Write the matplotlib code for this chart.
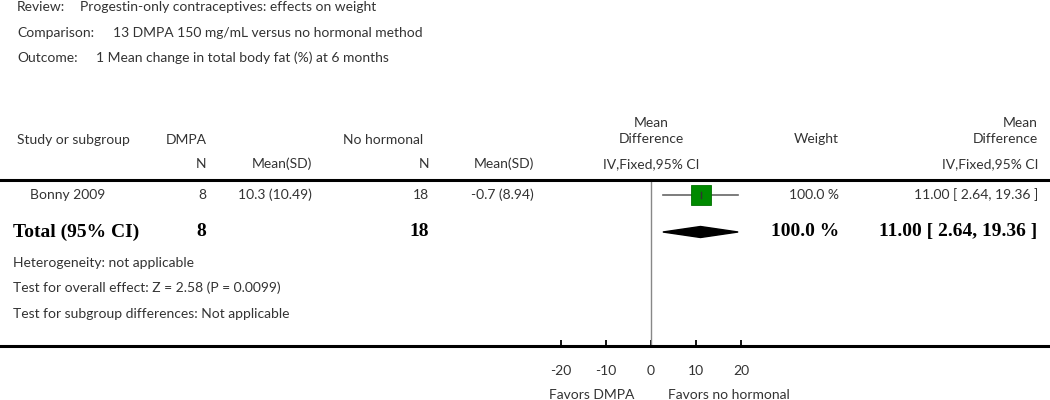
"""
Forest plot: DMPA 150 mg/mL versus no hormonal method,
mean change in total body fat (%) at 6 months.
"""

import matplotlib.pyplot as plt
from matplotlib.patches import Polygon

# datos del gráfico
review = "Progestin-only contraceptives: effects on weight"
comparison = "13 DMPA 150 mg/mL versus no hormonal method"
outcome = "1 Mean change in total body fat (%) at 6 months"

studies = ["Bonny 2009"]
dmpa_n = [8]
dmpa_mean_sd = ["10.3 (10.49)"]
nohorm_n = [18]
nohorm_mean_sd = ["-0.7 (8.94)"]
md = [11.00]
ci_low = [2.64]
ci_high = [19.36]
weights = [100.0]

total_dmpa_n = 8
total_nohorm_n = 18
total_md = 11.00
total_low = 2.64
total_high = 19.36
total_weight = 100.0

heterogeneity = "Heterogeneity: not applicable"
overall_effect = "Test for overall effect: Z = 2.58 (P = 0.0099)"
subgroup_diff = "Test for subgroup differences: Not applicable"

x_ticks = [-20, -10, 0, 10, 20]
favors_left = "Favors DMPA"
favors_right = "Favors no hormonal"

W, H = 1050, 400
SANS = "Lato"
SERIF = "Liberation Serif"
GREY = "#333333"


def px(x, y):
    """pixel -> figure coords"""
    return x / W, 1 - y / H


def txt(fig, x, y, s, ha="left", bold=False, size=10):
    fx, fy = px(x, y)
    if bold:
        fig.text(fx, fy, s, ha=ha, va="center", fontsize=size + 4,
                 family=SERIF, weight="bold", color="black")
    else:
        fig.text(fx, fy, s, ha=ha, va="center", fontsize=size,
                 family=SANS, color=GREY)


def main():
    fig = plt.figure(figsize=(W / 100, H / 100), dpi=100)

    # encabezado
    txt(fig, 17, 7, "Review:")
    txt(fig, 80, 7, review)
    txt(fig, 17, 33, "Comparison:")
    txt(fig, 113, 33, comparison)
    txt(fig, 17, 58, "Outcome:")
    txt(fig, 96, 58, outcome)

    # cabecera de columnas
    txt(fig, 17, 140, "Study or subgroup")
    txt(fig, 166, 140, "DMPA")
    txt(fig, 206, 164, "N", ha="right")
    txt(fig, 312, 164, "Mean(SD)", ha="right")
    txt(fig, 343, 140, "No hormonal")
    txt(fig, 429, 164, "N", ha="right")
    txt(fig, 534, 164, "Mean(SD)", ha="right")
    txt(fig, 651, 123, "Mean", ha="center")
    txt(fig, 651, 139, "Difference", ha="center")
    txt(fig, 651, 164, "IV,Fixed,95% CI", ha="center")
    txt(fig, 839, 139, "Weight", ha="right")
    txt(fig, 1038, 123, "Mean", ha="right")
    txt(fig, 1038, 139, "Difference", ha="right")
    txt(fig, 1038, 164, "IV,Fixed,95% CI", ha="right")

    # líneas horizontales gruesas
    for yl in (180.5, 345.5):
        fig.add_artist(plt.Line2D([0, 1], [1 - yl / H] * 2, color="black",
                                  lw=2.2, transform=fig.transFigure))

    # ejes del forest plot: -20..20 ocupa 561..741 px
    row_px = [194.5, 232.0]
    step = row_px[1] - row_px[0]
    top, bot = 182, 345.5
    ax = fig.add_axes([561 / W, 1 - bot / H, 180 / W, (bot - top) / H])
    ax.set_xlim(-20, 20)
    ax.set_ylim((bot - row_px[0]) / step, (top - row_px[0]) / step)
    for s in ax.spines.values():
        s.set_visible(False)
    ax.set_yticks([])
    ax.set_xticks(x_ticks)
    ax.set_xticklabels([str(t) for t in x_ticks], family=SANS, fontsize=10,
                       color=GREY)
    ax.tick_params(axis="x", direction="in", length=4, width=1.3,
                   pad=14, colors="black", labelcolor=GREY)
    ax.patch.set_alpha(0)
    ax.axvline(0, color="#888888", lw=1)

    # estudios
    for i, name in enumerate(studies):
        y = row_px[i]
        txt(fig, 30, y, name)
        txt(fig, 206, y, str(dmpa_n[i]), ha="right")
        txt(fig, 312, y, dmpa_mean_sd[i], ha="right")
        txt(fig, 429, y, str(nohorm_n[i]), ha="right")
        txt(fig, 534, y, nohorm_mean_sd[i], ha="right")
        txt(fig, 839, y, f"{weights[i]:.1f} %", ha="right")
        txt(fig, 1038, y,
            f"{md[i]:.2f} [ {ci_low[i]:.2f}, {ci_high[i]:.2f} ]", ha="right")
        ax.plot([ci_low[i], ci_high[i]], [i, i], color="#666666", lw=1.2,
                clip_on=False)
        ax.plot([md[i]], [i], marker="s", markersize=13.7, color="#008a00",
                markeredgecolor="#007000", markeredgewidth=0.6)
        ax.plot([md[i], md[i]], [i - 0.08, i + 0.08], color="#333333", lw=1)

    # total
    yt = row_px[1]
    k = len(studies)
    txt(fig, 13, yt, "Total (95% CI)", bold=True)
    txt(fig, 206, yt, str(total_dmpa_n), ha="right", bold=True)
    txt(fig, 429, yt, str(total_nohorm_n), ha="right", bold=True)
    txt(fig, 839, yt, f"{total_weight:.1f} %", ha="right", bold=True)
    txt(fig, 1037, yt,
        f"{total_md:.2f} [ {total_low:.2f}, {total_high:.2f} ]",
        ha="right", bold=True)
    hh = 5.5 / step
    ax.add_patch(Polygon([[total_low, k], [total_md, k - hh],
                          [total_high, k], [total_md, k + hh]],
                         closed=True, color="black"))

    txt(fig, 13, 263, heterogeneity)
    txt(fig, 13, 288, overall_effect)
    txt(fig, 13, 314, subgroup_diff)

    # leyenda inferior
    txt(fig, 592, 395, favors_left, ha="center")
    txt(fig, 729, 395, favors_right, ha="center")

    fig.savefig("out.png", dpi=100)


if __name__ == "__main__":
    main()
